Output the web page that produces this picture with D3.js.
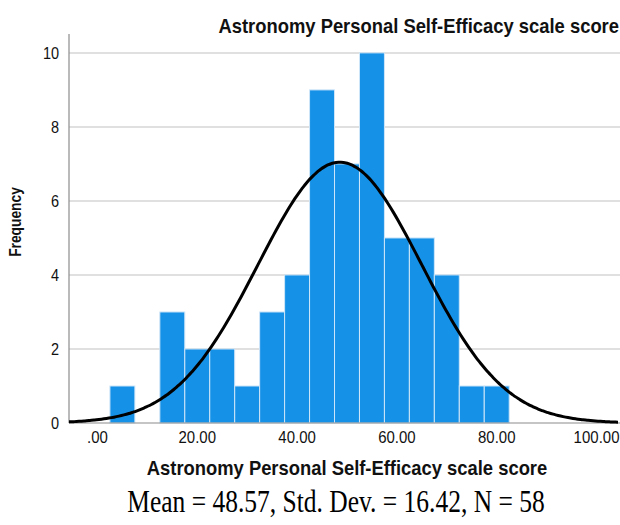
<!DOCTYPE html>
<html>
<head>
<meta charset="utf-8">
<script src="https://cdn.jsdelivr.net/npm/d3@7"></script>
<style>
  body { margin: 0; background: #fff; }
  svg { display: block; }
</style>
</head>
<body>
<svg id="chart"></svg>
<script>
// Histogram data (bin width 5, starting at 2.5)
const binStarts = [2.5, 7.5, 12.5, 17.5, 22.5, 27.5, 32.5, 37.5, 42.5, 47.5, 52.5, 57.5, 62.5, 67.5, 72.5, 77.5];
const counts = [1, 0, 3, 2, 2, 1, 3, 4, 9, 7, 10, 5, 5, 4, 1, 1];
const binWidth = 5;
const xTicks = [0, 20, 40, 60, 80, 100];
const yTicks = [0, 2, 4, 6, 8, 10];
const mean = 48.57;
const sd = 16.42;
const n = 58;

const width = 620;
const height = 525;
const margin = { top: 34, right: 0, bottom: 102, left: 69 };

const svg = d3.select("#chart").attr("width", width).attr("height", height);

const x = d3.scaleLinear().domain([-5.7, 104.7]).range([margin.left, width - margin.right]);
const y = d3.scaleLinear().domain([0, 10.51]).range([height - margin.bottom, margin.top]);

// gridlines
svg.append("g")
  .selectAll("line")
  .data(yTicks.filter((d) => d > 0))
  .enter()
  .append("line")
  .attr("x1", margin.left)
  .attr("x2", width - margin.right)
  .attr("y1", (d) => y(d))
  .attr("y2", (d) => y(d))
  .attr("stroke", "#d6d6d6")
  .attr("stroke-width", 1.5);

// bars
svg.append("g")
  .selectAll("rect")
  .data(binStarts.map((s, i) => ({ s, c: counts[i] })).filter((d) => d.c > 0))
  .enter()
  .append("rect")
  .attr("x", (d) => x(d.s))
  .attr("width", (d) => x(d.s + binWidth) - x(d.s))
  .attr("y", (d) => y(d.c))
  .attr("height", (d) => y(0) - y(d.c))
  .attr("fill", "#1591e8")
  .attr("stroke", "#cfe6f8")
  .attr("stroke-width", 1);

// axes
const fontSans = "'Liberation Sans', Arial, sans-serif";

svg.append("line")
  .attr("x1", margin.left).attr("x2", margin.left)
  .attr("y1", margin.top).attr("y2", y(0))
  .attr("stroke", "#8c8c8c").attr("stroke-width", 1.2);
svg.append("line")
  .attr("x1", margin.left).attr("x2", width)
  .attr("y1", y(0)).attr("y2", y(0))
  .attr("stroke", "#8c8c8c").attr("stroke-width", 1.2);

svg.append("g")
  .selectAll("text")
  .data(yTicks)
  .enter()
  .append("text")
  .attr("transform", (d) => `translate(${margin.left - 10}, ${y(d)}) scale(1, 1.15)`)
  .attr("dy", "0.36em")
  .attr("text-anchor", "end")
  .attr("font-family", fontSans)
  .attr("font-size", "14.5px")
  .attr("fill", "#111")
  .text((d) => d);

svg.append("g")
  .selectAll("text")
  .data(xTicks)
  .enter()
  .append("text")
  .attr("transform", (d) => `translate(${x(d)}, ${y(0) + 20}) scale(1, 1.15)`)
  .attr("text-anchor", "middle")
  .attr("font-family", fontSans)
  .attr("font-size", "15px")
  .attr("fill", "#111")
  .text((d) => (d === 0 ? ".00" : d.toFixed(2)));

// normal curve
const curveXs = d3.range(-5.7, 104.8, 0.5);
const normal = (v) => (n * binWidth) / (sd * Math.sqrt(2 * Math.PI)) * Math.exp(-0.5 * ((v - mean) / sd) ** 2);
svg.append("path")
  .datum(curveXs)
  .attr("fill", "none")
  .attr("stroke", "#000")
  .attr("stroke-width", 3)
  .attr("d", d3.line().x((d) => x(d)).y((d) => y(normal(d))).curve(d3.curveBasis));

// titles
svg.append("text")
  .attr("transform", "translate(619, 33) scale(1, 1.12)")
  .attr("text-anchor", "end")
  .attr("font-family", fontSans)
  .attr("font-weight", "bold")
  .attr("font-size", "18.4px")
  .attr("fill", "#111")
  .text("Astronomy Personal Self-Efficacy scale score");

svg.append("text")
  .attr("transform", "translate(347, 475) scale(1, 1.12)")
  .attr("text-anchor", "middle")
  .attr("font-family", fontSans)
  .attr("font-weight", "bold")
  .attr("font-size", "18.4px")
  .attr("fill", "#111")
  .text("Astronomy Personal Self-Efficacy scale score");

svg.append("text")
  .attr("transform", "translate(21, 222) rotate(-90) scale(1, 1.25)")
  .attr("text-anchor", "middle")
  .attr("font-family", fontSans)
  .attr("font-weight", "bold")
  .attr("font-size", "13.8px")
  .attr("fill", "#111")
  .text("Frequency");

svg.append("text")
  .attr("transform", "translate(336, 512) scale(1, 1.22)")
  .attr("text-anchor", "middle")
  .attr("font-family", "'Liberation Serif', 'Times New Roman', serif")
  .attr("font-size", "25.5px")
  .attr("fill", "#000")
  .text(`Mean = ${mean}, Std. Dev. = ${sd}, N = ${n}`);
</script>
</body>
</html>
